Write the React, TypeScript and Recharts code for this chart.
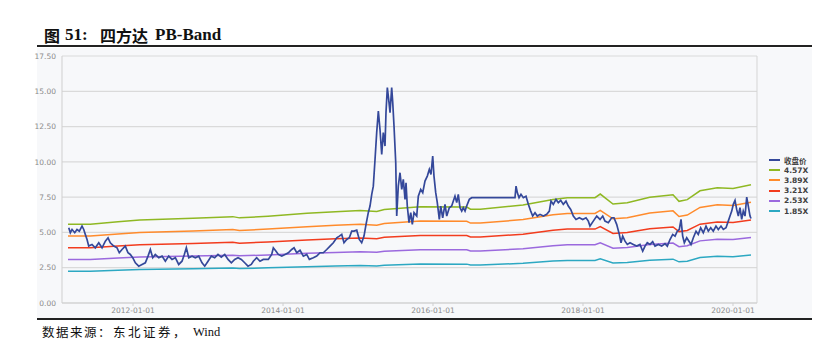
import React from "react";
import { LineChart, Line, XAxis, YAxis, CartesianGrid, ReferenceLine } from "recharts";

// Close price (decimal year, value)
const priceYears = [
  2011.143, 2011.164, 2011.187, 2011.223, 2011.253, 2011.284, 2011.32, 2011.343, 2011.364, 2011.387,
  2011.409, 2011.453, 2011.497, 2011.543, 2011.587, 2011.631, 2011.667, 2011.697, 2011.743, 2011.787,
  2011.817, 2011.853, 2011.897, 2011.933, 2011.964, 2011.996, 2012.031, 2012.076, 2012.12, 2012.164,
  2012.2, 2012.231, 2012.263, 2012.297, 2012.343, 2012.387, 2012.431, 2012.476, 2012.52, 2012.564,
  2012.609, 2012.653, 2012.684, 2012.711, 2012.743, 2012.787, 2012.831, 2012.876, 2012.92, 2012.956,
  2013.0, 2013.044, 2013.089, 2013.133, 2013.177, 2013.223, 2013.267, 2013.311, 2013.356, 2013.4,
  2013.444, 2013.489, 2013.533, 2013.577, 2013.604, 2013.649, 2013.693, 2013.737, 2013.804, 2013.849,
  2013.871, 2013.907, 2013.937, 2013.983, 2014.027, 2014.071, 2014.116, 2014.147, 2014.183, 2014.227,
  2014.271, 2014.316, 2014.351, 2014.404, 2014.449, 2014.493, 2014.537, 2014.583, 2014.627, 2014.671,
  2014.716, 2014.751, 2014.783, 2014.813, 2014.849, 2014.884, 2014.916, 2014.947, 2014.983, 2015.017,
  2015.049, 2015.08, 2015.107, 2015.137, 2015.16, 2015.183, 2015.204, 2015.227, 2015.249, 2015.271,
  2015.293, 2015.316, 2015.337, 2015.36, 2015.373, 2015.391, 2015.409, 2015.427, 2015.449, 2015.463,
  2015.48, 2015.503, 2015.516, 2015.537, 2015.56, 2015.583, 2015.604, 2015.627, 2015.64, 2015.657,
  2015.68, 2015.703, 2015.724, 2015.747, 2015.783, 2015.804, 2015.836, 2015.863, 2015.893, 2015.924,
  2015.951, 2015.973, 2015.996, 2016.013, 2016.036, 2016.057, 2016.084, 2016.103, 2016.129, 2016.16,
  2016.183, 2016.217, 2016.249, 2016.271, 2016.293, 2016.316, 2016.337, 2016.36, 2016.383, 2016.404,
  2016.427, 2016.449, 2016.484, 2016.516, 2017.093, 2017.107, 2017.124, 2017.147, 2017.173, 2017.204,
  2017.24, 2017.271, 2017.303, 2017.329, 2017.36, 2017.391, 2017.427, 2017.471, 2017.516, 2017.551,
  2017.573, 2017.604, 2017.64, 2017.671, 2017.703, 2017.737, 2017.773, 2017.804, 2017.836, 2017.871,
  2017.907, 2017.951, 2017.996, 2018.04, 2018.071, 2018.093, 2018.137, 2018.183, 2018.227, 2018.263,
  2018.293, 2018.337, 2018.383, 2018.413, 2018.449, 2018.484, 2018.507, 2018.529, 2018.56, 2018.591,
  2018.627, 2018.671, 2018.716, 2018.76, 2018.796, 2018.827, 2018.857, 2018.893, 2018.929, 2018.96,
  2019.004, 2019.049, 2019.093, 2019.124, 2019.16, 2019.196, 2019.227, 2019.257, 2019.284, 2019.307,
  2019.329, 2019.351, 2019.383, 2019.413, 2019.44, 2019.471, 2019.507, 2019.537, 2019.569, 2019.604,
  2019.64, 2019.671, 2019.703, 2019.737, 2019.773, 2019.804, 2019.84, 2019.871, 2019.907, 2019.937,
  2019.96, 2019.983, 2020.004, 2020.027, 2020.049, 2020.071, 2020.093, 2020.116, 2020.137, 2020.16,
  2020.183, 2020.204, 2020.227, 2020.24,
];
const priceClose = [
  5.33, 4.98, 5.21, 4.98, 5.21, 5.09, 5.45, 5.21, 4.86, 4.5,
  4.03, 4.15, 3.91, 4.27, 3.91, 4.38, 4.62, 4.27, 4.03, 3.91,
  3.56, 3.79, 4.03, 3.56, 3.44, 3.21, 2.85, 2.61, 2.73, 2.85,
  3.32, 3.79, 3.21, 3.44, 3.21, 3.32, 2.96, 3.32, 3.09, 3.21,
  2.73, 2.96, 3.44, 3.91, 3.21, 3.32, 3.21, 3.32, 2.85, 2.61,
  2.96, 3.32, 3.21, 3.44, 3.25, 3.44, 3.09, 2.85, 3.09, 3.21,
  3.09, 2.85, 2.61, 2.73, 2.96, 3.21, 2.96, 3.09, 3.09, 3.44,
  3.91, 3.67, 3.44, 3.32, 3.44, 3.56, 3.79, 3.91, 3.56, 3.74,
  3.32, 3.44, 3.09, 3.21, 3.32, 3.56, 3.56, 3.79, 4.03, 4.27,
  4.62, 4.74, 4.86, 4.27, 4.5, 4.62, 5.09, 5.09, 5.16, 4.5,
  4.27, 4.74, 5.57, 6.4, 6.87, 7.7, 8.28, 10.18, 12.07, 13.6,
  12.3, 10.53, 12.07, 11.12, 13.49, 15.26, 14.43, 13.49, 15.26, 14.2,
  12.54, 9.94, 6.16, 8.28, 9.23, 8.05, 8.76, 7.34, 8.52, 6.87,
  5.69, 6.4, 5.57, 6.4, 6.16, 7.57, 8.05, 7.82, 8.64, 8.99,
  9.47, 9.11, 10.41, 8.99, 7.82, 7.11, 5.92, 6.87, 6.04, 6.99,
  6.16, 6.75, 6.87, 7.22, 7.57, 7.11, 7.7, 6.75, 6.51, 6.75,
  6.51, 6.87, 7.34, 7.46, 7.46, 8.28, 7.82, 7.46, 7.7, 7.46,
  7.57, 6.99, 6.51, 6.16, 6.4, 6.16, 6.28, 6.16, 6.28, 6.51,
  7.22, 6.99, 7.34, 7.11, 7.27, 6.99, 7.22, 6.87, 6.63, 6.16,
  5.92, 6.04, 5.92, 6.04, 5.8, 5.45, 5.8, 6.16, 5.92, 6.16,
  5.8, 5.69, 6.04, 6.04, 5.57, 4.86, 4.27, 4.74, 4.38, 4.15,
  4.27, 4.15, 4.03, 4.15, 3.67, 4.03, 4.27, 4.15, 4.34, 4.03,
  4.15, 4.03, 4.2, 4.03, 4.5, 4.86, 4.74, 5.09, 5.21, 5.92,
  4.74, 4.27, 4.62, 4.38, 4.15, 4.62, 5.09, 4.86, 5.33, 4.98,
  5.45, 5.09, 5.33, 5.09, 5.45, 5.21, 5.45, 5.21, 5.33, 5.8,
  6.16, 6.51, 6.99, 7.27, 6.63, 6.16, 6.75, 5.92, 6.51, 6.16,
  7.5, 6.87, 6.16, 5.99,
];

// Book value per share (decimal year, value) used for the PB bands
const bpsYears = [
  2011.133, 2011.43, 2011.8, 2012.09, 2012.8, 2013.33, 2013.42, 2013.8, 2014.32, 2014.7,
  2015.03, 2015.25, 2015.35, 2015.83, 2016.45, 2016.5, 2016.63, 2017.2, 2017.6, 2017.79,
  2018.16, 2018.23, 2018.4, 2018.59, 2018.89, 2019.2, 2019.28, 2019.39, 2019.56, 2019.79,
  2020.0, 2020.24,
];
const bpsValues = [
  1.219, 1.219, 1.258, 1.285, 1.313, 1.339, 1.320, 1.346, 1.390, 1.416,
  1.433, 1.418, 1.449, 1.492, 1.488, 1.455, 1.455, 1.519, 1.606, 1.632,
  1.632, 1.689, 1.534, 1.554, 1.641, 1.678, 1.576, 1.602, 1.740, 1.788,
  1.775, 1.834,
];

const bandNames = ["4.57X", "3.89X", "3.21X", "2.53X", "1.85X"];
const bandMultiples = [4.57, 3.89, 3.21, 2.53, 1.85];
const bandColors = ["#8fb823", "#ff8b2c", "#f23c1e", "#9b69de", "#2ca8c2"];
const priceName = "收盘价";
const priceColor = "#34489a";

const yTicks = [0, 2.5, 5, 7.5, 10, 12.5, 15, 17.5];
const xTicks = [2012, 2014, 2016, 2018, 2020];
const xDomain = [2011.053, 2020.32];

const priceData = priceYears.map((t, i) => ({ t, v: priceClose[i] }));
const bandData = bandMultiples.map((m) =>
  bpsYears.map((t, i) => ({ t, v: +(bpsValues[i] * m).toFixed(3) }))
);

const legendItems = [{ name: priceName, color: priceColor }].concat(
  bandNames.map((n, i) => ({ name: n, color: bandColors[i] }))
);

const tickFont = { fontSize: 7.5, fill: "#8a8a8a", fontFamily: "'DejaVu Sans', sans-serif" };
const cjkTitle = { position: "absolute" as const, top: 25, fontWeight: 700, fontSize: 16, fontFamily: "'Noto Sans CJK SC', sans-serif", color: "#111", lineHeight: "20px" };
const latTitle = { position: "absolute" as const, top: 25, fontWeight: 700, fontSize: 17, fontFamily: "'Liberation Serif', serif", color: "#111", lineHeight: "20px" };

export default function App() {
  return (
    <div style={{ position: "fixed", left: 0, top: 0, width: 819, height: 351, background: "#fff", overflow: "hidden" }}>
      {/* title */}
      <div style={{ ...cjkTitle, left: 44 }}>图</div>
      <div style={{ ...latTitle, left: 65 }}>51:</div>
      <div style={{ ...cjkTitle, left: 100 }}>四方达</div>
      <div style={{ ...latTitle, left: 155 }}>PB-Band</div>
      <div style={{ position: "absolute", top: 45, left: 37, width: 775, height: 2, background: "#222" }} />
      {/* panel */}
      <div style={{ position: "absolute", top: 48, left: 37, width: 775, height: 270, background: "#f7f8fa" }} />
      <div style={{ position: "absolute", top: 318, left: 37, width: 775, height: 2, background: "#222" }} />
      {/* source */}
      <div style={{ position: "absolute", top: 324, left: 42, fontSize: 12.5, letterSpacing: 1.5, fontFamily: "'Noto Sans CJK SC', sans-serif", color: "#111", lineHeight: "16px" }}>数据来源：</div>
      <div style={{ position: "absolute", top: 324, left: 113, fontSize: 12.5, letterSpacing: 2.5, fontFamily: "'Noto Sans CJK SC', sans-serif", color: "#111", lineHeight: "16px" }}>东北证券，</div>
      <div style={{ position: "absolute", top: 324, left: 193, fontSize: 12.5, fontFamily: "'Liberation Serif', serif", color: "#111", lineHeight: "16px" }}>Wind</div>

      <div style={{ position: "absolute", left: 0, top: 0 }}>
        <LineChart width={819} height={351} margin={{ top: 56, right: 62, bottom: 28, left: 0 }}>
          <CartesianGrid vertical={false} stroke="#dadada" strokeWidth={1.2} />
          <XAxis
            type="number"
            dataKey="t"
            domain={xDomain}
            ticks={xTicks}
            allowDataOverflow
            height={20}
            tickFormatter={(v) => `${v}-01-01`}
            tick={tickFont}
            tickSize={3}
            tickMargin={2}
            stroke="#cfcfcf"
            interval={0}
          />
          <YAxis
            type="number"
            domain={[0, 17.5]}
            ticks={yTicks}
            width={62}
            tickFormatter={(v) => v.toFixed(2)}
            tick={tickFont}
            tickSize={0}
            tickMargin={6}
            stroke="#cfcfcf"
            interval={0}
          />
          <ReferenceLine x={xDomain[1]} stroke="#d5d5d5" strokeWidth={1} />
          {bandData.map((d, i) => (
            <Line
              key={bandNames[i]}
              data={d}
              dataKey="v"
              name={bandNames[i]}
              stroke={bandColors[i]}
              strokeWidth={1.5}
              dot={false}
              isAnimationActive={false}
              type="linear"
            />
          ))}
          <Line
            data={priceData}
            dataKey="v"
            name={priceName}
            stroke={priceColor}
            strokeWidth={1.7}
            dot={false}
            isAnimationActive={false}
            type="linear"
          />
        </LineChart>
      </div>

      {/* legend */}
      <div style={{ position: "absolute", left: 769, top: 155 }}>
        {legendItems.map((it) => (
          <div key={it.name} style={{ display: "flex", alignItems: "center", height: 10.2 }}>
            <div style={{ width: 11, height: 2, background: it.color, marginRight: 4 }} />
            <span style={{ fontSize: 7.5, fontWeight: 700, color: "#404040", fontFamily: "'DejaVu Sans', 'Noto Sans CJK SC', sans-serif", whiteSpace: "nowrap" }}>{it.name}</span>
          </div>
        ))}
      </div>
    </div>
  );
}
